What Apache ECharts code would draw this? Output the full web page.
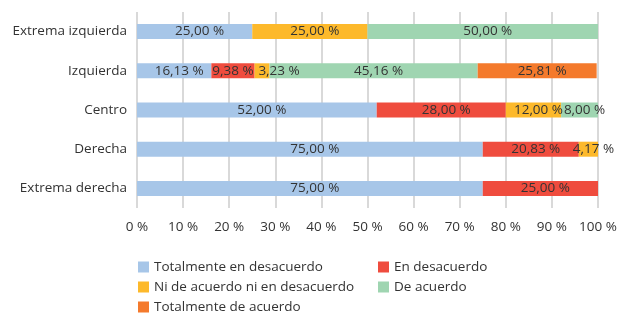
<!DOCTYPE html>
<html>
<head>
<meta charset="utf-8">
<script src="https://cdn.jsdelivr.net/npm/echarts@6/dist/echarts.min.js"></script>
<style>
html,body{margin:0;padding:0;background:#fff;}
#main{width:633px;height:327px;}
</style>
</head>
<body>
<div id="main"></div>
<script>
var categorias = ['Extrema izquierda', 'Izquierda', 'Centro', 'Derecha', 'Extrema derecha'];
var totDesacuerdo = [25.00, 16.13, 52.00, 75.00, 75.00];
var enDesacuerdo = [0, 9.38, 28.00, 20.83, 25.00];
var niNi = [25.00, 3.23, 12.00, 4.17, 0];
var deAcuerdo = [50.00, 45.16, 8.00, 0, 0];
var totAcuerdo = [0, 25.81, 0, 0, 0];

var nombres = ['Totalmente en desacuerdo', 'En desacuerdo', 'Ni de acuerdo ni en desacuerdo', 'De acuerdo', 'Totalmente de acuerdo'];
var colores = ['#a7c6e8', '#ef4c3e', '#fdb92b', '#9fd5b1', '#f47a2c'];
var datos = [totDesacuerdo, enDesacuerdo, niNi, deAcuerdo, totAcuerdo];

var fuente = 'Open Sans';

function serie(i){
	var d = datos[i].map(function(v, j){
		//las etiquetas pequeñas de Izquierda no se pisan
		if(i == 1 && j == 1){
			return { value : v, label : { offset : [0, 0] } };
		}
		if(i == 2 && j == 1){
			return { value : v, label : { offset : [17, 0] } };
		}
		return v;
	});
	return {
		name : nombres[i],
		type : 'bar',
		stack : 'total',
		barWidth : 15,
		data : d,
		itemStyle : { color : colores[i] },
		label : {
			show : true,
			position : 'inside',
			offset : [5, 0],
			color : '#333',
			fontFamily : fuente,
			fontSize : 13.5,
			formatter : function(p){
				if(!p.value) return '';
				return p.value.toFixed(2).replace('.', ',') + ' %';
			}
		}
	};
}

var estiloLeyenda = { fontFamily : fuente, fontSize : 13.5, color : '#333', lineHeight : 13 };

var myChart = echarts.init(document.getElementById('main'));
var option = {
	backgroundColor : '#fff',
	animation : false,
	grid : {
		left : 137,
		right : 35,
		top : 12,
		bottom : 119
	},
	legend : [{
		orient : 'vertical',
		left : 138,
		top : 260,
		padding : 0,
		itemWidth : 11,
		itemHeight : 11,
		itemGap : 6,
		icon : 'rect',
		data : [nombres[0], nombres[2], nombres[4]],
		textStyle : estiloLeyenda
	}, {
		orient : 'vertical',
		left : 378,
		top : 260,
		padding : 0,
		itemWidth : 11,
		itemHeight : 11,
		itemGap : 6,
		icon : 'rect',
		data : [nombres[1], nombres[3]],
		textStyle : estiloLeyenda
	}],
	xAxis : {
		type : 'value',
		min : 0,
		max : 100,
		interval : 10,
		axisLine : { show : false },
		axisTick : { show : false },
		axisLabel : {
			formatter : '{value} %',
			margin : 12,
			fontFamily : fuente,
			fontSize : 13.5,
			color : '#333'
		},
		splitLine : {
			show : true,
			lineStyle : { color : '#cccccc', width : 1.5 }
		}
	},
	yAxis : {
		type : 'category',
		inverse : true,
		data : categorias,
		axisLine : { show : false },
		axisTick : { show : false },
		axisLabel : {
			margin : 10,
			fontFamily : fuente,
			fontSize : 13.5,
			color : '#333'
		}
	},
	series : [serie(0), serie(1), serie(2), serie(3), serie(4)]
};
myChart.setOption(option);
</script>
</body>
</html>
